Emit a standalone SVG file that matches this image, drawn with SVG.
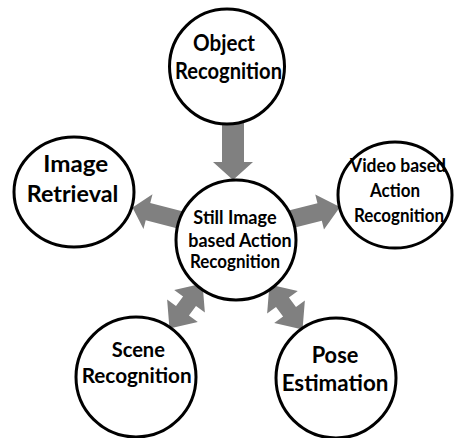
<svg xmlns="http://www.w3.org/2000/svg" width="454" height="438" viewBox="0 0 454 438">
  <style>
    .arrow { fill: #808080; }
    .node circle, .node ellipse { fill: #ffffff; stroke: #000000; stroke-width: 3; }
    .node text { font-family: Lato, "Open Sans", "Liberation Sans", sans-serif; font-weight: bold; fill: #000000; text-anchor: middle; }
  </style>
  <rect width="454" height="438" fill="#ffffff"/>

  <!-- block arrows, drawn first so the circles cover their ends -->
  <g id="connectors">
    <path class="arrow" d="M0,0 L-18,-20 L-18,-11 L-70,-11 L-70,11 L-18,11 L-18,20 Z" transform="translate(233,180) rotate(90)"/>
    <path class="arrow" d="M0,0 L-16,-18 L-16,-9 L-60,-9 L-60,9 L-16,9 L-16,18 Z" transform="translate(132.5,207.6) rotate(194.5)"/>
    <path class="arrow" d="M0,0 L-21,-18 L-21,-9 L-65,-9 L-65,9 L-21,9 L-21,18 Z" transform="translate(340,207) rotate(-14)"/>
    <path class="arrow" d="M28,0 L6,-19 L6,-8 L-6,-8 L-6,-19 L-28,0 L-6,19 L-6,8 L6,8 L6,19 Z" transform="translate(186,306) rotate(-53.8)"/>
    <path class="arrow" d="M28,0 L6,-19 L6,-8 L-6,-8 L-6,-19 L-28,0 L-6,19 L-6,8 L6,8 L6,19 Z" transform="translate(286,307) rotate(53.8)"/>
  </g>

  <g id="object-recognition" class="node">
    <circle cx="227" cy="66.5" r="57.5"/>
    <text x="224" y="51" font-size="22" textLength="62" lengthAdjust="spacingAndGlyphs">Object</text>
    <text x="228.5" y="79" font-size="22" textLength="107" lengthAdjust="spacingAndGlyphs">Recognition</text>
  </g>

  <g id="image-retrieval" class="node">
    <ellipse cx="74" cy="192" rx="60" ry="55"/>
    <text x="75.8" y="172" font-size="23" textLength="65" lengthAdjust="spacingAndGlyphs">Image</text>
    <text x="72.5" y="202" font-size="23" textLength="91.6" lengthAdjust="spacingAndGlyphs">Retrieval</text>
  </g>

  <g id="video-action-recognition" class="node">
    <ellipse cx="395" cy="195" rx="57" ry="53"/>
    <text x="398" y="172" font-size="19" textLength="96" lengthAdjust="spacingAndGlyphs">Video based</text>
    <text x="395" y="197" font-size="19" textLength="50" lengthAdjust="spacingAndGlyphs">Action</text>
    <text x="399" y="222" font-size="19" textLength="90" lengthAdjust="spacingAndGlyphs">Recognition</text>
  </g>

  <g id="still-image-action-recognition" class="node">
    <circle cx="236" cy="240" r="60"/>
    <text x="235" y="223.5" font-size="19" textLength="83.3" lengthAdjust="spacingAndGlyphs">Still Image</text>
    <text x="240" y="246.5" font-size="19" textLength="103.3" lengthAdjust="spacingAndGlyphs">based Action</text>
    <text x="235" y="268" font-size="19" textLength="90" lengthAdjust="spacingAndGlyphs">Recognition</text>
  </g>

  <g id="scene-recognition" class="node">
    <circle cx="136" cy="377" r="60"/>
    <text x="138.3" y="357" font-size="21.5" textLength="53.3" lengthAdjust="spacingAndGlyphs">Scene</text>
    <text x="136.7" y="383" font-size="21.5" textLength="110" lengthAdjust="spacingAndGlyphs">Recognition</text>
  </g>

  <g id="pose-estimation" class="node">
    <circle cx="336" cy="378" r="60"/>
    <text x="335" y="363" font-size="23" textLength="46.7" lengthAdjust="spacingAndGlyphs">Pose</text>
    <text x="335" y="391" font-size="23" textLength="106.7" lengthAdjust="spacingAndGlyphs">Estimation</text>
  </g>
</svg>
